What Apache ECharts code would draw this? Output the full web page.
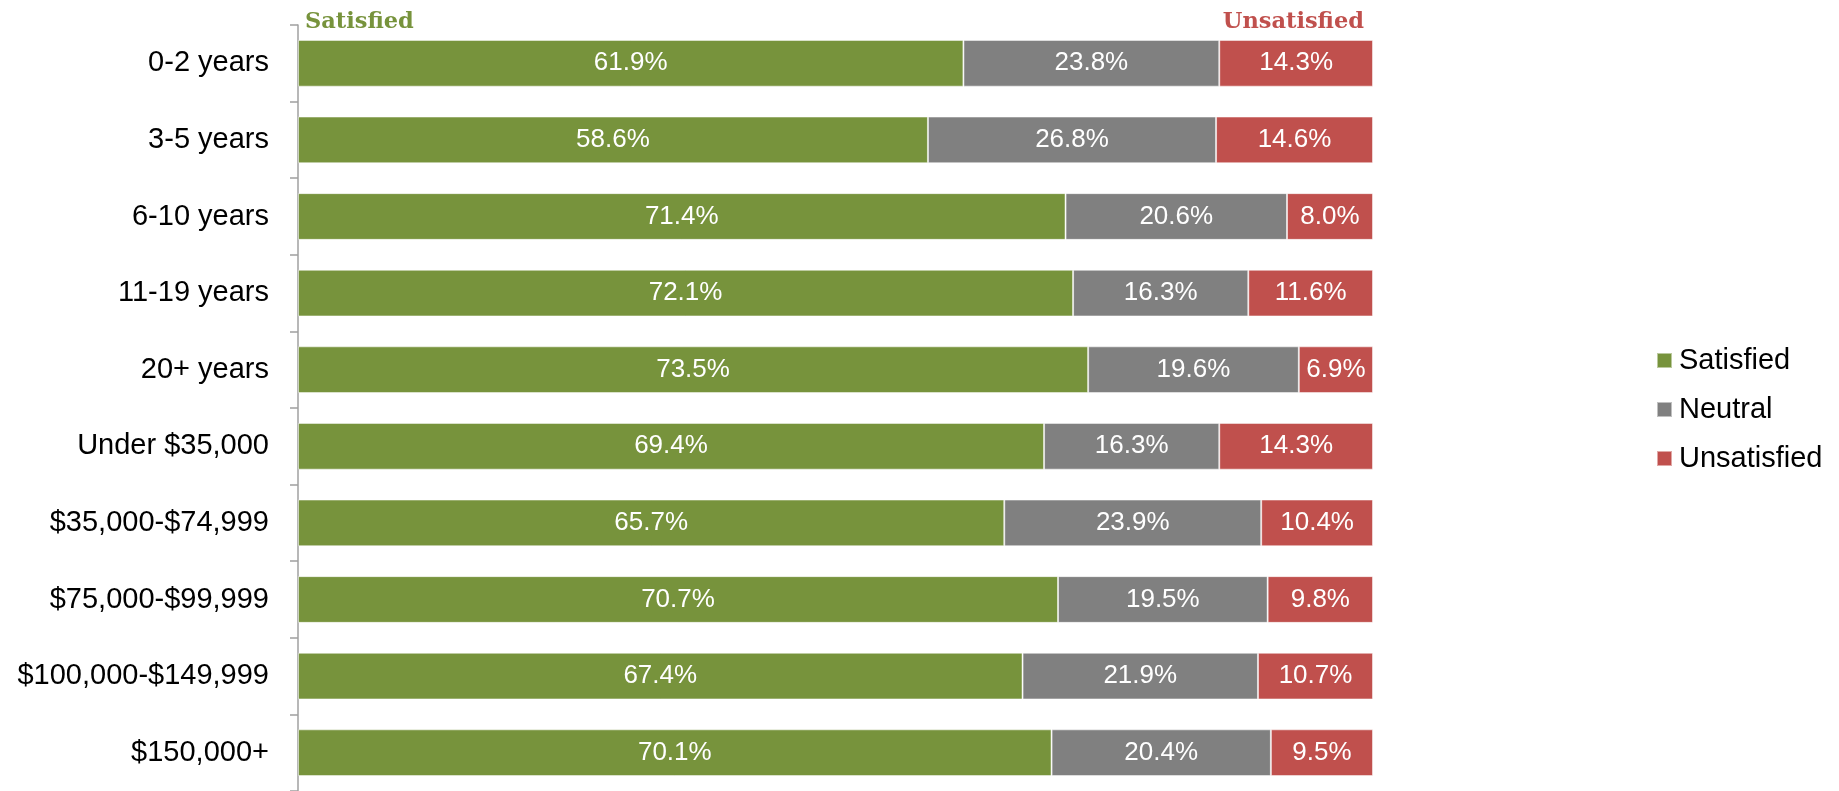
<!DOCTYPE html>
<html>
<head>
<meta charset="utf-8">
<title>Satisfaction by tenure and income</title>
<script src="https://cdn.jsdelivr.net/npm/echarts@6/dist/echarts.min.js"></script>
<style>
  html, body { margin: 0; padding: 0; background: #ffffff; }
  #chart { width: 1839px; height: 791px; }
</style>
</head>
<body>
<div id="chart"></div>
<script>
// Groups, listed top to bottom
const categories = [
  '0-2 years', '3-5 years', '6-10 years', '11-19 years', '20+ years',
  'Under $35,000', '$35,000-$74,999', '$75,000-$99,999', '$100,000-$149,999', '$150,000+'
];

// Share of respondents (%) in each group
const satisfied   = [61.9, 58.6, 71.4, 72.1, 73.5, 69.4, 65.7, 70.7, 67.4, 70.1];
const neutral     = [23.8, 26.8, 20.6, 16.3, 19.6, 16.3, 23.9, 19.5, 21.9, 20.4];
const unsatisfied = [14.3, 14.6,  8.0, 11.6,  6.9, 14.3, 10.4,  9.8, 10.7,  9.5];

const seriesNames = ['Satisfied', 'Neutral', 'Unsatisfied'];
const seriesColors = ['#77933C', '#808080', '#C0504D'];
const seriesData = [satisfied, neutral, unsatisfied];

const sansFont = '"Liberation Sans", Arial, sans-serif';
const headerFont = 'bold 22.5px "DejaVu Serif", Georgia, serif';

const chart = echarts.init(document.getElementById('chart'), null, { renderer: 'canvas' });

const series = seriesNames.map((name, i) => ({
  name: name,
  type: 'bar',
  stack: 'total',
  barWidth: '61%',
  data: seriesData[i],
  itemStyle: { color: seriesColors[i], borderColor: 'rgba(255,255,255,0.5)', borderWidth: 1 },
  label: {
    show: true,
    position: 'inside',
    color: '#ffffff',
    fontFamily: sansFont,
    fontSize: 26,
    formatter: p => p.value.toFixed(1) + '%'
  },
  emphasis: { disabled: true }
}));

chart.setOption({
  animation: false,
  grid: { left: 298, right: 466, top: 25, bottom: -3, containLabel: false },
  xAxis: {
    type: 'value',
    min: 0,
    max: 100,
    show: false
  },
  yAxis: {
    type: 'category',
    inverse: true,
    data: categories,
    axisLine: { show: true, lineStyle: { color: '#A0A0A0', width: 1.5 } },
    axisTick: { show: true, length: 8, lineStyle: { color: '#A0A0A0', width: 1.5 } },
    axisLabel: {
      margin: 29,
      color: '#000000',
      fontFamily: sansFont,
      fontSize: 29
    },
    splitLine: { show: false }
  },
  legend: {
    orient: 'vertical',
    left: 1651,
    top: 341,
    itemWidth: 15,
    itemHeight: 15,
    itemGap: 20,
    icon: 'rect',
    data: seriesNames,
    textStyle: {
      color: '#000000',
      fontFamily: sansFont,
      fontSize: 29,
      padding: [0, 0, 0, 2]
    }
  },
  graphic: [
    {
      type: 'text',
      left: 305,
      top: 11,
      style: { text: 'Satisfied', fill: '#77933C', font: headerFont }
    },
    {
      type: 'text',
      right: 1839 - 1364,
      top: 11,
      style: { text: 'Unsatisfied', fill: '#C0504D', font: headerFont }
    }
  ],
  series: series
});
</script>
</body>
</html>
